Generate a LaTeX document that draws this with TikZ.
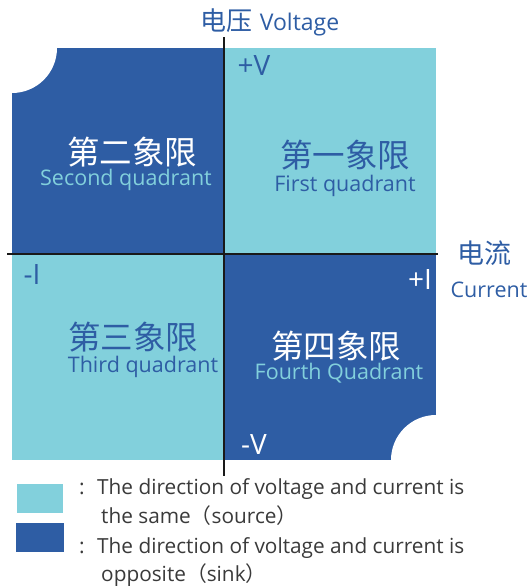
\documentclass[tikz,border=0pt]{standalone}
\usepackage{fontspec}
\setmainfont{Open Sans}
\newfontfamily\cjk{Noto Sans CJK SC}
\definecolor{sinkblue}{HTML}{2E5DA4}
\definecolor{sourcecyan}{HTML}{82D0DC}
\definecolor{legendgray}{HTML}{3A3A3A}

\tikzset{
  quadname/.style={font=\cjk\fontsize{32.5}{32.5}\selectfont, inner sep=0pt},
  quadsub/.style={font=\fontsize{21.5}{21.5}\selectfont, inner sep=0pt},
  signlabel/.style={font=\fontsize{28}{28}\selectfont, inner sep=0pt},
  legendtext/.style={font=\fontsize{20.8}{20.8}\selectfont, text=legendgray, anchor=base west, inner sep=0pt},
  legendbox/.style={minimum height=29pt, inner sep=0pt},
  axisline/.style={line width=2.6pt, black!90}
}

\begin{document}
\begin{tikzpicture}[x=1pt,y=-1pt]
\useasboundingbox (0,0) rectangle (530,587);
% the four quadrants
\fill[sinkblue] (12,48) rectangle (224,254);
\fill[sourcecyan] (224,48) rectangle (436,254);
\fill[sourcecyan] (12,254) rectangle (224,460);
\fill[sinkblue] (224,254) rectangle (436,460);
\fill[white] (12,48) circle (45pt);
\fill[white] (436,460) circle (45pt);

% axes
\coordinate (vtop) at (224,37);
\coordinate (vbot) at (224,476);
\coordinate (ileft) at (7,254);
\coordinate (iright) at (438,254);
\draw[axisline] (ileft) -- (iright);
\draw[axisline] (vtop) -- (vbot);

% axis names
\node[text=sinkblue, inner sep=0pt] (vname) at (270,22) {{\cjk\fontsize{26}{26}\selectfont 电压}\hspace{7pt}\fontsize{23}{23}\selectfont Voltage};
\node[text=sinkblue, inner sep=0pt, font=\cjk\fontsize{27}{27}\selectfont] (iname) at (484,253) {电流};
\node[text=sinkblue, inner sep=0pt, font=\fontsize{21.5}{21.5}\selectfont] (iname2) at (489,290) {Current};

% ends of the axes
\node[signlabel, text=sinkblue] (pv) at (254,66) {+V};
\node[signlabel, text=white] (nv) at (254,444) {-V};
\node[signlabel, text=sinkblue] (ni) at (32,275) {-I};
\node[signlabel, text=white] (pi) at (420,280) {+I};

% quadrant names
\node[quadname, text=white] (q2) at (132,152) {第二象限};
\node[quadsub, text=sourcecyan] (q2en) at (126,180) {Second quadrant};
\node[quadname, text=sinkblue] (q1) at (345,155) {第一象限};
\node[quadsub, text=sinkblue] (q1en) at (345,186) {First quadrant};
\node[quadname, text=sinkblue] (q3) at (133,337) {第三象限};
\node[quadsub, text=sinkblue] (q3en) at (143,367) {Third quadrant};
\node[quadname, text=white] (q4) at (336,346) {第四象限};
\node[quadsub, text=sourcecyan] (q4en) at (339,373) {Fourth Quadrant};

% legend
\node[legendbox, fill=sourcecyan, minimum width=46pt] (srcbox) at (40,498.5) {};
\node[legendbox, fill=sinkblue, minimum width=48pt] (sinkbox) at (40,537.5) {};
\node[legendtext] (srccolon) at (79,494) {:};
\node[legendtext] (srctext) at (97,494) {The direction of voltage and current is};
\node[legendtext] (srctext2) at (101,523) {the same{\cjk （}source{\cjk ）}};
\node[legendtext] (sinkcolon) at (79,553) {:};
\node[legendtext] (sinktext) at (97,553) {The direction of voltage and current is};
\node[legendtext] (sinktext2) at (101,581) {opposite{\cjk （}sink{\cjk ）}};
\end{tikzpicture}
\end{document}
